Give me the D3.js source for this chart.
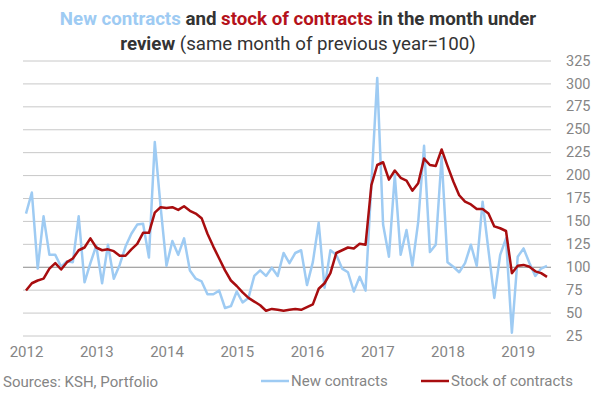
<!DOCTYPE html>
<html>
<head>
<meta charset="utf-8">
<script src="https://cdn.jsdelivr.net/npm/d3@7"></script>
<style>
  body { margin: 0; background: #fff; }
  svg { display: block; font-family: Roboto, sans-serif; }
</style>
</head>
<body>
<div class="chart"></div>
<script>
// month index 0 = Jan 2012
var years = ['2012', '2013', '2014', '2015', '2016', '2017', '2018', '2019'];
var yTicks = [25, 50, 75, 100, 125, 150, 175, 200, 225, 250, 275, 300, 325];

var newContracts = [
  158, 181, 98, 155, 113, 113, 100, 106, 105, 155, 83, 104, 123, 82, 124, 87,
  102, 122, 136, 146, 147, 110, 236, 165, 101, 128, 113, 131, 96, 87, 84, 70,
  70, 74, 55, 57, 73, 61, 66, 90, 96, 90, 99, 90, 115, 104, 115, 118,
  80, 105, 148, 77, 118, 113, 98, 94, 73, 89, 74, 190, 306, 146, 111, 200,
  113, 140, 101, 149, 232, 116, 124, 220, 105, 100, 94, 104, 124, 101, 171, 118,
  66, 113, 131, 28, 111, 120, 104, 90, 98, 101
];

var stockContracts = [
  74, 82, 85, 87, 98, 104, 97, 105, 109, 118, 121, 131, 121, 118, 119, 117,
  112, 112, 119, 125, 137, 137, 159, 165, 164, 165, 162, 166, 161, 158, 153, 136,
  122, 109, 96, 85, 79, 72, 66, 62, 58, 52, 54, 53, 52, 53, 54, 53,
  56, 59, 76, 82, 93, 115, 118, 121, 120, 125, 124, 189, 211, 214, 195, 205,
  197, 194, 183, 191, 218, 211, 210, 228, 210, 193, 178, 171, 168, 163, 163, 158,
  144, 142, 139, 93, 101, 102, 100, 95, 93, 89
];

var width = 613, height = 398;
var blue = '#9ecbf3', red = '#a80d0f', grey = '#858585';

var svg = d3.select('.chart')
  .append('svg')
    .attr('width', width)
    .attr('height', height);

var x = d3.scaleLinear()
  .domain([0, newContracts.length - 1])
  .range([26, 547]);

var y = d3.scaleLinear()
  .domain([25, 325])
  .range([335.5, 60.5]);

// right axis + gridlines
var yAxis = d3.axisRight(y)
  .tickValues(yTicks)
  .tickSize(-528)
  .tickPadding(15);

var gy = svg.append('g')
  .attr('transform', 'translate(551,0)')
  .call(yAxis);
gy.select('.domain').remove();
gy.selectAll('.tick line')
  .attr('stroke', d => d === 100 ? '#8a8a8a' : '#c8c8c8')
  .attr('stroke-width', 1);
gy.selectAll('.tick text')
  .attr('fill', grey)
  .style('font-size', '14.5px')
  .style('font-family', 'Roboto, sans-serif');

// bottom axis, labels only
var xAxis = d3.axisBottom(x)
  .tickValues(years.map((d, i) => i * 12))
  .tickFormat((d, i) => years[i])
  .tickSize(0)
  .tickPadding(0);

var gx = svg.append('g')
  .attr('transform', 'translate(0,346)')
  .call(xAxis);
gx.select('.domain').remove();
gx.selectAll('.tick text')
  .attr('fill', grey)
  .style('font-size', '15px')
  .style('font-family', 'Roboto, sans-serif');

var line = d3.line()
  .x((d, i) => x(i))
  .y(d => y(d));

svg.append('path')
  .datum(newContracts)
  .attr('fill', 'none')
  .attr('stroke', blue)
  .attr('stroke-width', 2.5)
  .attr('stroke-linejoin', 'round')
  .attr('d', line);

svg.append('path')
  .datum(stockContracts)
  .attr('fill', 'none')
  .attr('stroke', red)
  .attr('stroke-width', 2.5)
  .attr('stroke-linejoin', 'round')
  .attr('d', line);

// title
var title = svg.append('text')
  .attr('text-anchor', 'middle')
  .style('font-size', '18.7px')
  .attr('fill', '#333');

var t1 = title.append('tspan').attr('x', 298).attr('y', 25).style('font-weight', 'bold');
t1.append('tspan').attr('fill', blue).text('New contracts');
t1.append('tspan').text(' and ');
t1.append('tspan').attr('fill', '#b5121b').text('stock of contracts');
t1.append('tspan').text(' in the month under');

var t2 = title.append('tspan').attr('x', 298).attr('y', 50);
t2.append('tspan').style('font-weight', 'bold').text('review');
t2.append('tspan').text(' (same month of previous year=100)');

// footer
svg.append('text')
  .attr('x', 3)
  .attr('y', 387)
  .attr('fill', grey)
  .style('font-size', '15px')
  .text('Sources: KSH, Portfolio');

var legend = [
  { name: 'New contracts', color: blue, x: 261 },
  { name: 'Stock of contracts', color: red, x: 421 }
];

var lg = svg.selectAll('.legend')
  .data(legend)
  .enter()
  .append('g')
  .attr('class', 'legend')
  .attr('transform', d => `translate(${d.x},381)`);

lg.append('line')
  .attr('x1', 0).attr('x2', 28)
  .attr('stroke', d => d.color)
  .attr('stroke-width', 2.5);

lg.append('text')
  .attr('x', 30)
  .attr('y', 5)
  .attr('fill', grey)
  .style('font-size', '15px')
  .text(d => d.name);
</script>
</body>
</html>
